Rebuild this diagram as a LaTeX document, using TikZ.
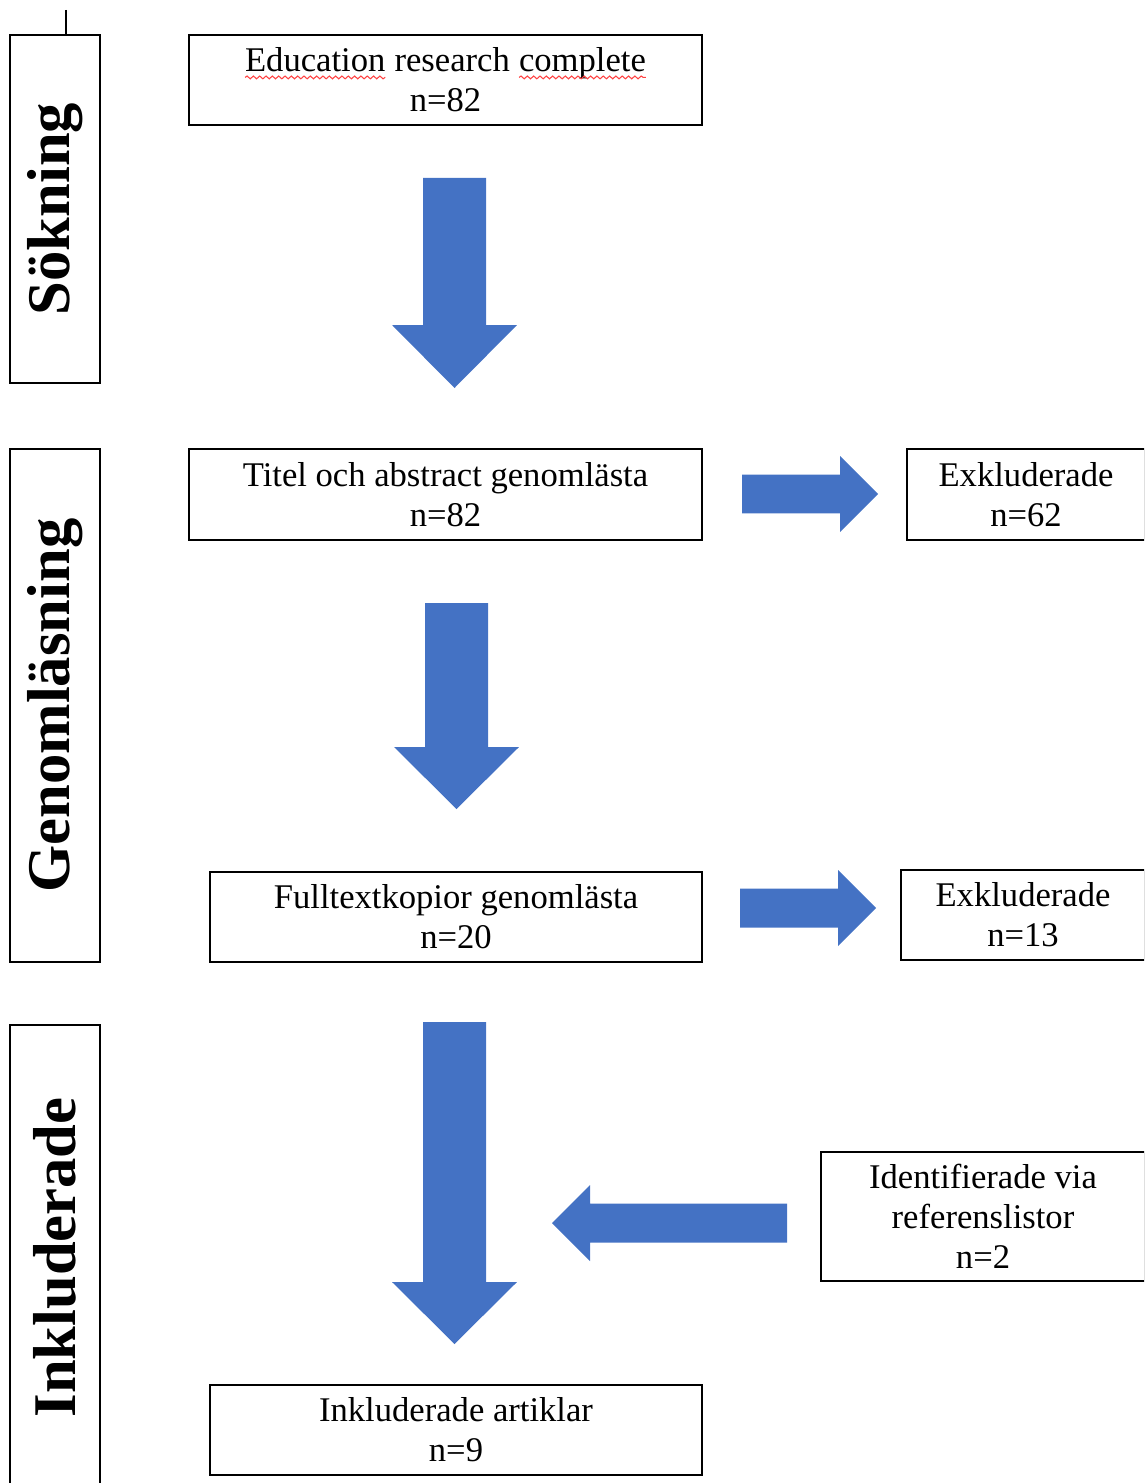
\documentclass[tikz,border=0pt]{standalone}
\usepackage{fontspec}
\setmainfont{Liberation Serif}
\usepackage{tikz}
\usetikzlibrary{calc, decorations.pathmorphing}

\definecolor{arrowblue}{HTML}{4472C4}

\newcommand\spellwave[1]{\tikz[baseline=(w.base), x=1cm, y=1cm]{%
  \node[draw=none, inner sep=0pt, outer sep=0pt, minimum width=0pt, minimum height=0pt] (w) {#1};
  \draw[red!75, line width=0.6pt, decorate, decoration={snake, amplitude=0.8pt, segment length=3.6pt}]
    ([yshift=-3.2pt]w.base west) -- ([yshift=-3.2pt]w.base east);}}

% tail, tip, shaft half width, head half width, head length
\newcommand\blockarrow[5]{%
  \coordinate (hb) at ($(#2)!#5!(#1)$);
  \fill[arrowblue] ($(#1)!#3!90:(#2)$) -- ($(hb)!#3!90:(#2)$) -- ($(hb)!#4!90:(#2)$)
    -- (#2) -- ($(hb)!#4!-90:(#2)$) -- ($(hb)!#3!-90:(#2)$) -- ($(#1)!#3!-90:(#2)$) -- cycle;
}

\begin{document}
\begin{tikzpicture}[x=0.02cm, y=-0.02cm,
    box/.style={draw, line width=1.1pt, inner sep=0pt, align=center,
                font=\fontsize{19.7}{22.8}\selectfont},
    stage/.style={draw, line width=1.1pt, inner sep=0pt, rotate=90,
                  minimum height=1.8cm, font=\fontsize{34.5}{40}\selectfont\bfseries}
  ]
  \clip (0,0) rectangle (1144,1483);

  \node[stage, minimum width=6.96cm]  (sok) at (55,209)    {Sökning};
  \node[stage, minimum width=10.26cm] (gen) at (55,705.5)  {Genomläsning};
  \node[stage, minimum width=9.3cm]   (ink) at (55,1257.5) {Inkluderade};
  \coordinate (tick) at (66,10);
  \draw[line width=1.1pt] (tick) -- (tick |- sok.east);

  \node[box, minimum width=10.26cm, minimum height=1.8cm] (edu) at (445.5,80)
    {\spellwave{Education} research \spellwave{complete}\\n=82};
  \node[box, minimum width=10.26cm, minimum height=1.82cm] (titel) at (445.5,494.5)
    {Titel och abstract genomlästa\\n=82};
  \node[box, minimum width=4.76cm, minimum height=1.82cm] (exkl1) at (1026,494.5)
    {Exkluderade\\n=62};
  \node[box, minimum width=9.84cm, minimum height=1.8cm] (full) at (456,917)
    {Fulltextkopior genomlästa\\n=20};
  \node[box, minimum width=4.88cm, minimum height=1.8cm] (exkl2) at (1023,915)
    {Exkluderade\\n=13};
  \node[box, minimum width=6.48cm, minimum height=2.58cm] (ident) at (983,1216.5)
    {Identifierade via\\referenslistor\\n=2};
  \node[box, minimum width=9.84cm, minimum height=1.8cm] (inkl) at (456,1430)
    {Inkluderade artiklar\\n=9};

  \coordinate (a1s) at (454.5,178);  \coordinate (a1e) at (454.5,388);
  \coordinate (a2s) at (456.5,603);  \coordinate (a2e) at (456.5,809);
  \coordinate (a3s) at (454.5,1022); \coordinate (a3e) at (454.5,1344);
  \coordinate (r1s) at (742,494);    \coordinate (r1e) at (878,494);
  \coordinate (r2s) at (740,908);    \coordinate (r2e) at (876,908);
  \coordinate (l1s) at (787,1223);   \coordinate (l1e) at (552,1223);

  \blockarrow{a1s}{a1e}{0.63cm}{1.25cm}{1.26cm}
  \blockarrow{a2s}{a2e}{0.63cm}{1.25cm}{1.24cm}
  \blockarrow{a3s}{a3e}{0.63cm}{1.25cm}{1.24cm}
  \blockarrow{r1s}{r1e}{0.39cm}{0.76cm}{0.76cm}
  \blockarrow{r2s}{r2e}{0.39cm}{0.76cm}{0.76cm}
  \blockarrow{l1s}{l1e}{0.39cm}{0.76cm}{0.76cm}
\end{tikzpicture}
\end{document}
